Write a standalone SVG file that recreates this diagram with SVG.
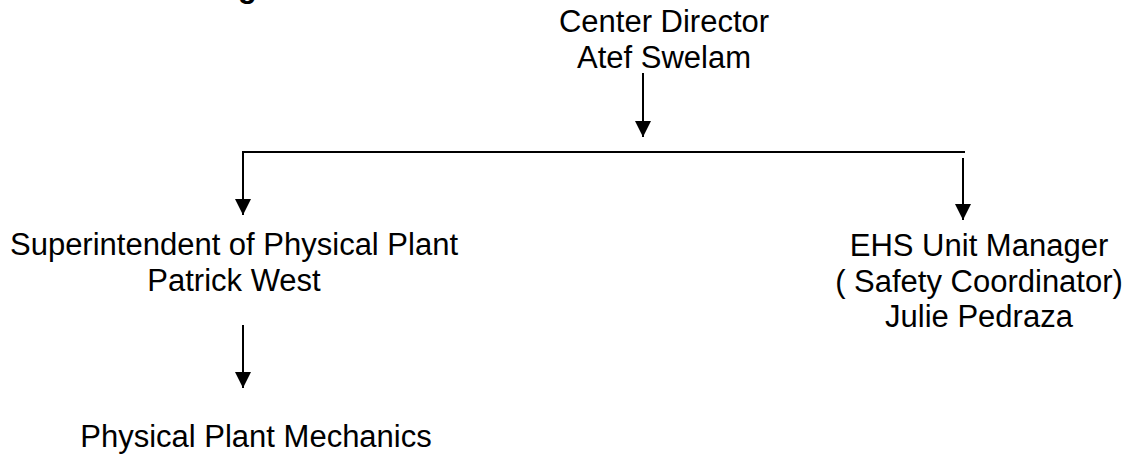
<svg xmlns="http://www.w3.org/2000/svg" width="1131" height="455" viewBox="0 0 1131 455">
  <style>
    .t { font-family: "Liberation Sans", Arial, sans-serif; font-size: 31px; fill: #000; text-anchor: middle; }
    .b { font-family: "Liberation Sans", Arial, sans-serif; font-size: 31px; font-weight: bold; fill: #000; }
    .ln { stroke: #000; stroke-width: 2; fill: none; }
  </style>
  <defs>
    <marker id="ah" markerUnits="userSpaceOnUse" markerWidth="16" markerHeight="16" viewBox="0 0 16 16" refX="16" refY="8" orient="auto">
      <path d="M0,0 L16,8 L0,16 Z" fill="#000"/>
    </marker>
  </defs>
  <rect width="1131" height="455" fill="#fff"/>
  <text class="b" x="238" y="-3.5">g</text>
  <g id="connectors">
    <line class="ln" x1="643" y1="73" x2="643" y2="137" marker-end="url(#ah)"/>
    <line class="ln" x1="242" y1="152" x2="965" y2="152"/>
    <line class="ln" x1="243" y1="152" x2="243" y2="215" marker-end="url(#ah)"/>
    <line class="ln" x1="963" y1="158" x2="963" y2="220" marker-end="url(#ah)"/>
    <line class="ln" x1="243" y1="325" x2="243" y2="388" marker-end="url(#ah)"/>
  </g>
  <g id="node-director">
    <text class="t" x="664" y="32">Center Director</text>
    <text class="t" x="664" y="68">Atef Swelam</text>
  </g>
  <g id="node-superintendent">
    <text class="t" x="234" y="255">Superintendent of Physical Plant</text>
    <text class="t" x="234" y="291">Patrick West</text>
  </g>
  <g id="node-ehs">
    <text class="t" x="979" y="256">EHS Unit Manager</text>
    <text class="t" x="979" y="292">( Safety Coordinator)</text>
    <text class="t" x="979" y="327">Julie Pedraza</text>
  </g>
  <g id="node-mechanics">
    <text class="t" x="256" y="447">Physical Plant Mechanics</text>
  </g>
</svg>
